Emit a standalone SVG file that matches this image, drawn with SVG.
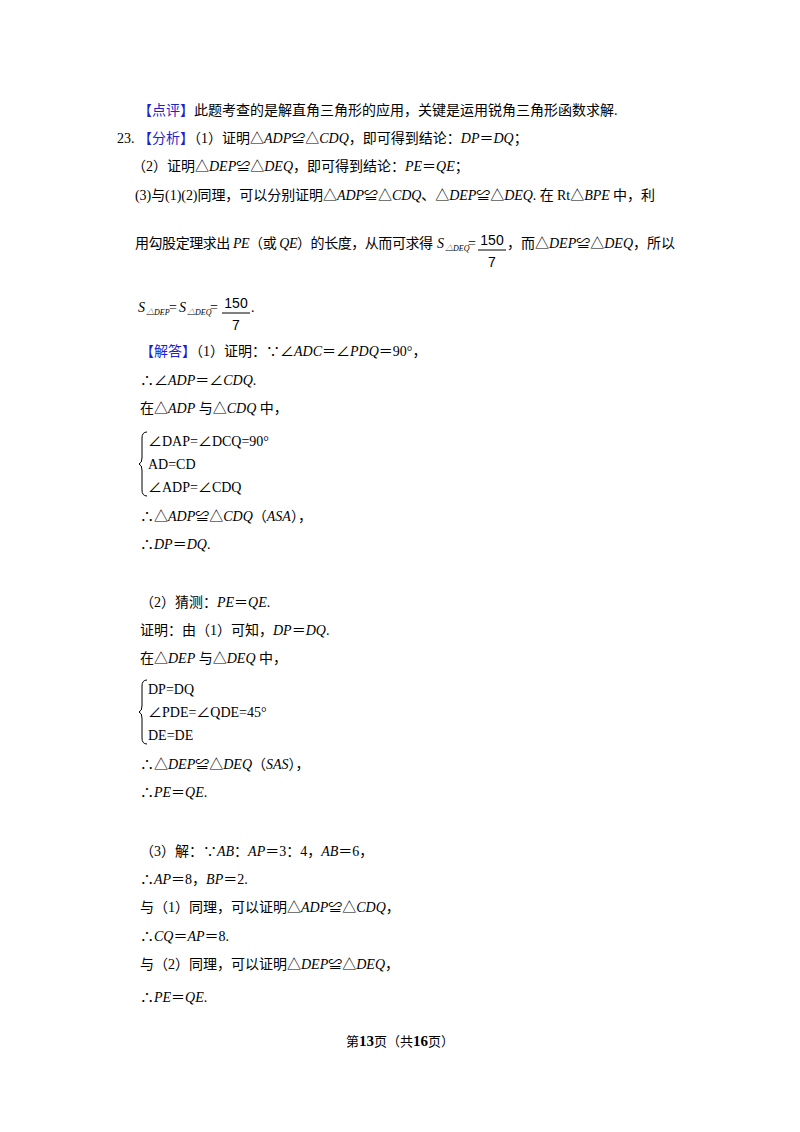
<svg xmlns="http://www.w3.org/2000/svg" width="800" height="1132" viewBox="0 0 800 1132">
<style>
text{font-family:"Liberation Serif","Noto Sans CJK SC",serif;font-size:14px;fill:#000}
.b{fill:#1f1fd0}
.i{font-style:italic}
.s{font-family:"Liberation Sans","Noto Sans CJK SC",sans-serif}
.sub{font-family:"Liberation Serif","Noto Sans CJK SC",serif;font-size:8px;font-style:italic}
</style>
<rect width="800" height="1132" fill="#fff"/>
<g id="text">
<text x="138" y="115"><tspan class="b">【点评】</tspan>此题考查的是解直角三角形的应用，关键是运用锐角三角形函数求解.</text>
<text x="117" y="143">23. <tspan class="b">【分析】</tspan>（1）证明△<tspan class="i">ADP</tspan>≌△<tspan class="i">CDQ</tspan>，即可得到结论：<tspan class="i">DP</tspan>＝<tspan class="i">DQ</tspan>；</text>
<text x="132" y="171">（2）证明△<tspan class="i">DEP</tspan>≌△<tspan class="i">DEQ</tspan>，即可得到结论：<tspan class="i">PE</tspan>＝<tspan class="i">QE</tspan>；</text>
<text x="135" y="200" textLength="520">(3)与(1)(2)同理，可以分别证明△<tspan class="i">ADP</tspan>≌△<tspan class="i">CDQ</tspan>、△<tspan class="i">DEP</tspan>≌△<tspan class="i">DEQ</tspan>. 在 Rt△<tspan class="i">BPE</tspan> 中，利</text>
<text x="135" y="248" textLength="298">用勾股定理求出 <tspan class="i">PE</tspan>（或 <tspan class="i">QE</tspan>）的长度，从而可求得</text>
<text class="i" x="437" y="248">S</text>
<text class="sub" x="445" y="251">△DEQ</text>
<text x="468" y="248">=</text>
<text class="s" x="492" y="245" text-anchor="middle">150</text>
<line x1="478" y1="250" x2="506" y2="250" stroke="#000" stroke-width="1"/>
<text class="s" x="492" y="267" text-anchor="middle">7</text>
<text x="507" y="248">，而△<tspan class="i">DEP</tspan>≌△<tspan class="i">DEQ</tspan>，所以</text>
<text class="i" x="138" y="312">S</text>
<text class="sub" x="146" y="315">△DEP</text>
<text x="169" y="312">=</text>
<text class="i" x="179" y="312">S</text>
<text class="sub" x="187" y="315">△DEQ</text>
<text x="210" y="312">=</text>
<text class="s" x="236" y="308" text-anchor="middle">150</text>
<line x1="222" y1="313" x2="250" y2="313" stroke="#000" stroke-width="1"/>
<text class="s" x="236" y="330" text-anchor="middle">7</text>
<text x="251" y="312">.</text>
<text x="140" y="356"><tspan class="b">【解答】</tspan>（1）证明：∵∠<tspan class="i">ADC</tspan>＝∠<tspan class="i">PDQ</tspan>＝90°，</text>
<text x="140" y="385">∴∠<tspan class="i">ADP</tspan>＝∠<tspan class="i">CDQ</tspan>.</text>
<text x="140" y="413">在△<tspan class="i">ADP</tspan> 与△<tspan class="i">CDQ</tspan> 中，</text>
<path d="M147 432 Q142 432 142 438 L142 458 Q142 463 139 464 Q142 465 142 470 L142 490 Q142 496 147 496" fill="none" stroke="#000" stroke-width="1"/>
<text x="148" y="446">∠DAP=∠DCQ=90°</text>
<text x="148" y="469">AD=CD</text>
<text x="148" y="492">∠ADP=∠CDQ</text>
<text x="140" y="521">∴△<tspan class="i">ADP</tspan>≌△<tspan class="i">CDQ</tspan>（<tspan class="i">ASA</tspan>），</text>
<text x="140" y="549">∴<tspan class="i">DP</tspan>＝<tspan class="i">DQ</tspan>.</text>
<text x="140" y="607">（2）猜测：<tspan class="i">PE</tspan>＝<tspan class="i">QE</tspan>.</text>
<text x="140" y="635">证明：由（1）可知，<tspan class="i">DP</tspan>＝<tspan class="i">DQ</tspan>.</text>
<text x="140" y="663">在△<tspan class="i">DEP</tspan> 与△<tspan class="i">DEQ</tspan> 中，</text>
<path d="M147 680 Q142 680 142 686 L142 706 Q142 711 139 712 Q142 713 142 718 L142 738 Q142 744 147 744" fill="none" stroke="#000" stroke-width="1"/>
<text x="148" y="694">DP=DQ</text>
<text x="148" y="717">∠PDE=∠QDE=45°</text>
<text x="148" y="740">DE=DE</text>
<text x="140" y="769">∴△<tspan class="i">DEP</tspan>≌△<tspan class="i">DEQ</tspan>（<tspan class="i">SAS</tspan>），</text>
<text x="140" y="797">∴<tspan class="i">PE</tspan>＝<tspan class="i">QE</tspan>.</text>
<text x="140" y="856">（3）解：∵<tspan class="i">AB</tspan>：<tspan class="i">AP</tspan>＝3：4，<tspan class="i">AB</tspan>＝6，</text>
<text x="140" y="884">∴<tspan class="i">AP</tspan>＝8，<tspan class="i">BP</tspan>＝2.</text>
<text x="140" y="912">与（1）同理，可以证明△<tspan class="i">ADP</tspan>≌△<tspan class="i">CDQ</tspan>，</text>
<text x="140" y="941">∴<tspan class="i">CQ</tspan>＝<tspan class="i">AP</tspan>＝8.</text>
<text x="140" y="969">与（2）同理，可以证明△<tspan class="i">DEP</tspan>≌△<tspan class="i">DEQ</tspan>，</text>
<text x="140" y="1002">∴<tspan class="i">PE</tspan>＝<tspan class="i">QE</tspan>.</text>
<text x="400" y="1046" text-anchor="middle" style="font-size:13px">第<tspan font-weight="bold" font-size="15">13</tspan>页（共<tspan font-weight="bold" font-size="15">16</tspan>页）</text>
</g>
</svg>
